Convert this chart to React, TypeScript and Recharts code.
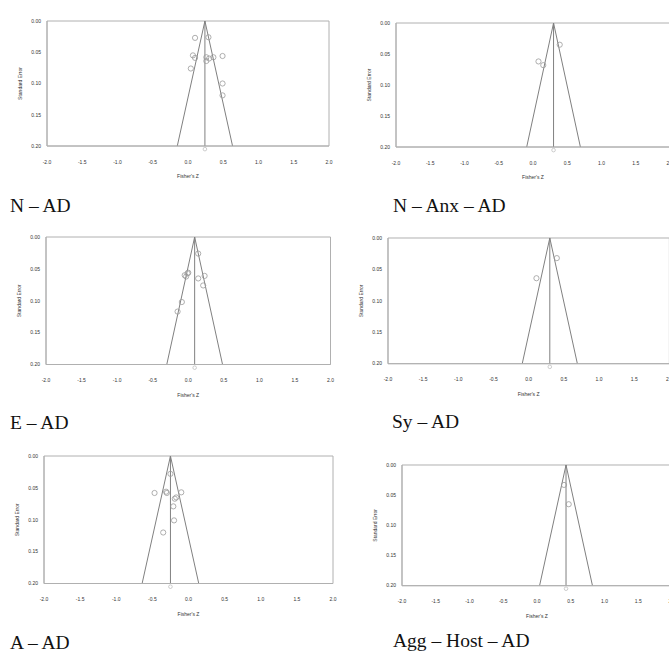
import React from "react";
import {
  ScatterChart,
  Scatter,
  XAxis,
  YAxis,
  ReferenceArea,
  ReferenceLine,
  ReferenceDot,
} from "recharts";

// ---- data (Fisher's Z, Standard Error) ----
const nAdZ = [0.10, 0.29, 0.07, 0.10, 0.26, 0.30, 0.36, 0.49, 0.04, 0.26, 0.49, 0.49];
const nAdSE = [0.027, 0.026, 0.055, 0.059, 0.058, 0.060, 0.058, 0.056, 0.076, 0.064, 0.100, 0.119];

const nAnxAdZ = [0.39, 0.08, 0.15];
const nAnxAdSE = [0.035, 0.062, 0.068];

const eAdZ = [0.14, -0.01, -0.05, 0.00, -0.03, 0.14, 0.23, 0.21, -0.09, -0.15];
const eAdSE = [0.026, 0.057, 0.060, 0.056, 0.062, 0.065, 0.061, 0.076, 0.102, 0.117];

const syAdZ = [0.11, 0.40];
const syAdSE = [0.064, 0.032];

const aAdZ = [-0.25, -0.47, -0.31, -0.30, -0.17, -0.19, -0.10, -0.21, -0.20, -0.35];
const aAdSE = [0.028, 0.058, 0.056, 0.058, 0.065, 0.067, 0.057, 0.079, 0.101, 0.120];

const aggAdZ = [0.40, 0.47];
const aggAdSE = [0.033, 0.065];

const pooledZ = [0.24, 0.30, 0.09, 0.30, -0.25, 0.43];
const titles = ["N – AD", "N – Anx – AD", "E – AD", "Sy – AD", "A – AD", "Agg – Host – AD"];

const xTicks = [-2.0, -1.5, -1.0, -0.5, 0.0, 0.5, 1.0, 1.5, 2.0];
const yTicks = [0.0, 0.05, 0.1, 0.15, 0.2];
const maxSE = 0.2;

const zip = (z: number[], se: number[]) => z.map((v, i) => ({ z: v, se: se[i] }));
const series = [
  zip(nAdZ, nAdSE),
  zip(nAnxAdZ, nAnxAdSE),
  zip(eAdZ, eAdSE),
  zip(syAdZ, syAdSE),
  zip(aAdZ, aAdSE),
  zip(aggAdZ, aggAdSE),
];

// ---- layout (plot box in page px) ----
type Box = { L: number; R: number; T: number; B: number; tx: number; ty: number };
const boxes: Box[] = [
  { L: 47, R: 329, T: 20.5, B: 145.5, tx: 10, ty: 196 },
  { L: 395.7, R: 669.7, T: 22.5, B: 146.5, tx: 393, ty: 196 },
  { L: 45.5, R: 330, T: 237, B: 364.5, tx: 10, ty: 413 },
  { L: 388.3, R: 669.7, T: 238.3, B: 364, tx: 392, ty: 412 },
  { L: 44, R: 333, T: 455.5, B: 583, tx: 10, ty: 633 },
  { L: 401.7, R: 671.7, T: 465, B: 585.7, tx: 393, ty: 631 },
];

const ML = 40;
const MT = 8;
const MR = 6;
const MB = 40;

const tickStyle = { fontSize: 5, fill: "#333", fontFamily: "Liberation Sans, Arial, sans-serif" };

const OpenCircle = (props: any) => {
  const { cx, cy } = props;
  if (cx == null || cy == null) return null;
  return <circle cx={cx} cy={cy} r={2.6} fill="none" stroke="#9a9a9a" strokeWidth={0.8} />;
};

function Panel({ idx }: { idx: number }) {
  const g = boxes[idx];
  const m = pooledZ[idx];
  const half = 1.96 * maxSE;
  const w = g.R - g.L + ML + MR;
  const h = g.B - g.T + MT + MB;
  return (
    <>
      <div style={{ position: "absolute", left: g.L - ML, top: g.T - MT }}>
        <ScatterChart width={w} height={h} margin={{ top: MT, right: MR, bottom: 0, left: 0 }}>
          <XAxis
            type="number"
            dataKey="z"
            domain={[-2, 2]}
            ticks={xTicks}
            tickFormatter={(v: number) => v.toFixed(1)}
            tick={tickStyle}
            tickLine={false}
            tickSize={6}
            tickMargin={8}
            axisLine={{ stroke: "#b0b0b0" }}
            height={MB}
            allowDataOverflow
            label={{
              value: "Fisher's Z",
              position: "insideBottom",
              offset: 8,
              style: { fontSize: 5, fill: "#333", fontFamily: "Liberation Sans, Arial, sans-serif" },
            }}
          />
          <YAxis
            type="number"
            dataKey="se"
            domain={[0, 0.2]}
            reversed
            ticks={yTicks}
            tickFormatter={(v: number) => v.toFixed(2)}
            tick={tickStyle}
            tickLine={false}
            tickSize={4}
            tickMargin={2}
            axisLine={{ stroke: "#b0b0b0" }}
            width={ML}
            allowDataOverflow
            label={{
              value: "Standard Error",
              angle: -90,
              position: "center",
              dx: -7,
              style: { fontSize: 5, fill: "#333", fontFamily: "Liberation Sans, Arial, sans-serif", textAnchor: "middle" },
            }}
          />
          <ReferenceArea x1={-2} x2={2} y1={0} y2={0.2} fill="none" stroke="#b0b0b0" strokeWidth={1} />
          <ReferenceLine x={m} stroke="#808080" strokeWidth={1} />
          <ReferenceLine
            segment={[
              { x: m - half, y: maxSE },
              { x: m, y: 0 },
            ]}
            stroke="#808080"
            strokeWidth={1}
          />
          <ReferenceLine
            segment={[
              { x: m, y: 0 },
              { x: m + half, y: maxSE },
            ]}
            stroke="#808080"
            strokeWidth={1}
          />
          <ReferenceDot
            x={m}
            y={0.205}
            r={1.8}
            fill="none"
            stroke="#c0c0c0"
            strokeWidth={0.8}
            ifOverflow="visible"
          />
          <Scatter data={series[idx]} shape={OpenCircle} isAnimationActive={false} />
        </ScatterChart>
      </div>
      <div
        style={{
          position: "absolute",
          left: g.tx,
          top: g.ty,
          fontFamily: "Liberation Serif, 'Times New Roman', serif",
          fontSize: 19.5,
          lineHeight: "19px",
          color: "#111",
          whiteSpace: "nowrap",
        }}
      >
        {titles[idx]}
      </div>
    </>
  );
}

export default function App() {
  return (
    <div
      style={{
        position: "absolute",
        left: 0,
        top: 0,
        width: 669,
        height: 654,
        overflow: "hidden",
        background: "#fff",
      }}
    >
      {[0, 1, 2, 3, 4, 5].map((i) => (
        <Panel key={i} idx={i} />
      ))}
    </div>
  );
}
